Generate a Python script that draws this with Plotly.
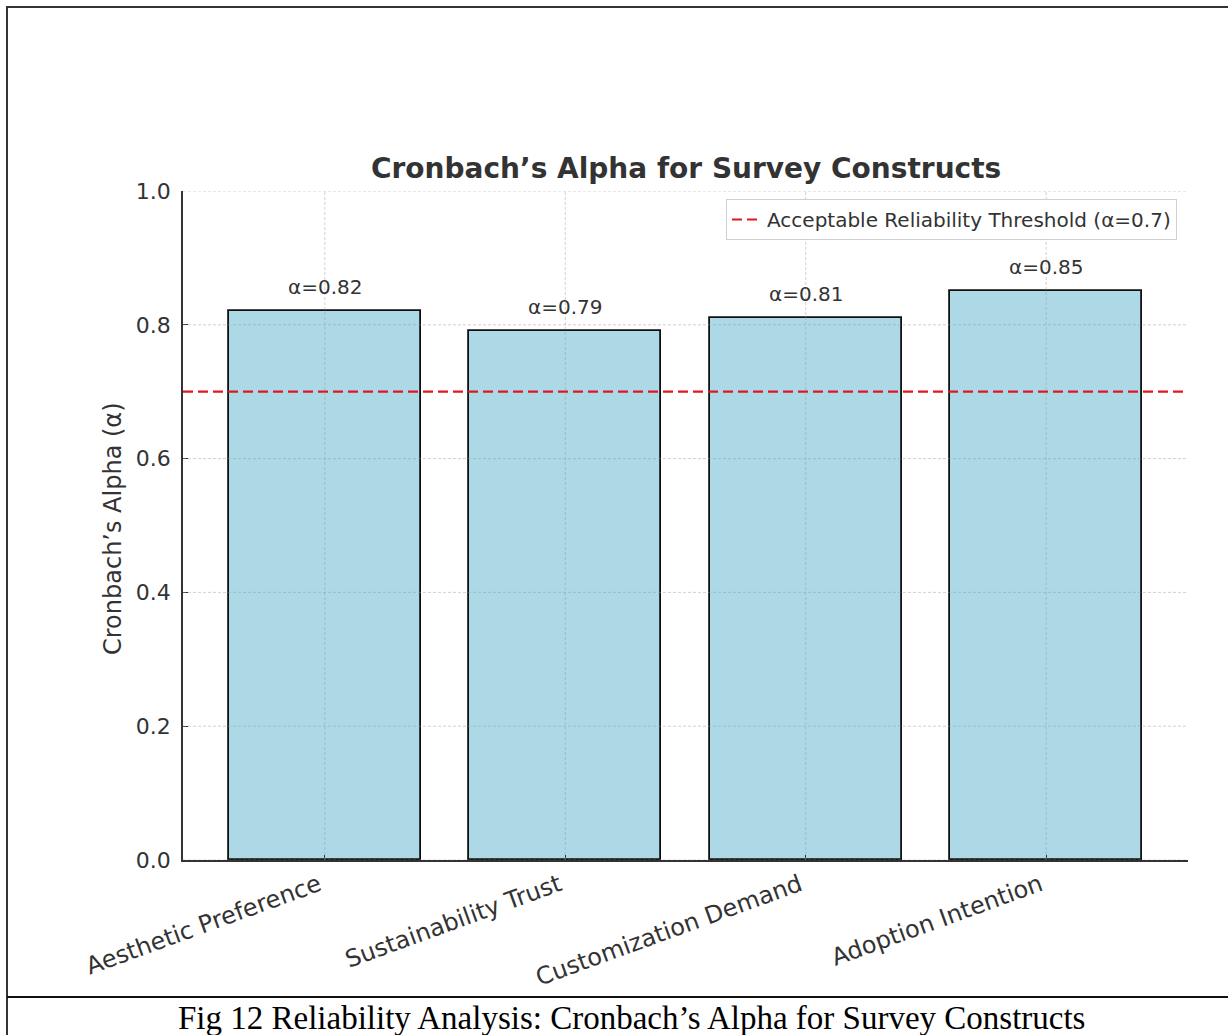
import numpy as np
import plotly.graph_objects as go

# Reliability scores per survey construct
constructs = ["Aesthetic Preference", "Sustainability Trust", "Customization Demand", "Adoption Intention"]
alpha_values = [0.82, 0.79, 0.81, 0.85]
threshold = 0.7
threshold_label = "Acceptable Reliability Threshold (α=0.7)"
y_ticks = [0.0, 0.2, 0.4, 0.6, 0.8, 1.0]

W, H = 1228, 1035
FONT = "DejaVu Sans"
TXT = "#333333"

pos = np.arange(len(constructs))
bar_width = 0.8
pad = 0.05 * (len(constructs) - 1 + bar_width)
x_range = [pos[0] - bar_width / 2 - pad, pos[-1] + bar_width / 2 + pad]

fig = go.Figure()

fig.add_trace(go.Bar(
    x=pos, y=alpha_values, width=bar_width,
    marker=dict(color="#ADD8E6", line=dict(color="#111111", width=1.8)),
    showlegend=False, hoverinfo="skip",
))

fig.add_trace(go.Scatter(
    x=x_range, y=[threshold, threshold], mode="lines",
    line=dict(color="#E0191F", width=2.2, dash="10px,5px"),
    name=threshold_label,
))

shapes = []
# dashed grid drawn over the bars
for yv in y_ticks:
    shapes.append(dict(type="line", xref="x domain", yref="y", x0=0, x1=1, y0=yv, y1=yv,
                       line=dict(color="rgba(150,150,150,0.45)", width=1, dash="3px,2px"),
                       layer="above"))
for xv in pos:
    shapes.append(dict(type="line", xref="x", yref="y domain", x0=xv, x1=xv, y0=0, y1=1,
                       line=dict(color="rgba(150,150,150,0.45)", width=1, dash="3px,2px"),
                       layer="above"))

# frame around figure and caption separator
shapes.append(dict(type="rect", xref="paper", yref="paper",
                   x0=7 / W, x1=1.02, y0=-0.02, y1=1 - 7 / H,
                   line=dict(color="#333333", width=2), layer="above"))
shapes.append(dict(type="line", xref="paper", yref="paper",
                   x0=7 / W, x1=1.0, y0=1 - 997 / H, y1=1 - 997 / H,
                   line=dict(color="#111111", width=2), layer="above"))

annotations = []
for xv, v in zip(pos, alpha_values):
    annotations.append(dict(x=xv, y=v + 0.02, xref="x", yref="y", text=f"α={v:.2f}",
                            showarrow=False, yanchor="bottom", yshift=-3,
                            font=dict(family=FONT, size=20, color=TXT)))

annotations.append(dict(x=(183 + 1188) / 2 / W, y=1 - 168 / H, xref="paper", yref="paper",
                        text="<b>Cronbach’s Alpha for Survey Constructs</b>", showarrow=False,
                        xanchor="center", yanchor="middle",
                        font=dict(family=FONT, size=28, color=TXT)))
annotations.append(dict(x=113 / W, y=1 - 529 / H, xref="paper", yref="paper",
                        text="Cronbach’s Alpha (α)", showarrow=False, textangle=-90,
                        xanchor="center", yanchor="middle",
                        font=dict(family=FONT, size=24, color=TXT)))
annotations.append(dict(x=631 / W, y=1 - 1018 / H, xref="paper", yref="paper",
                        text="Fig 12 Reliability Analysis: Cronbach’s Alpha for Survey Constructs",
                        showarrow=False, xanchor="center", yanchor="middle",
                        font=dict(family="Liberation Serif", size=33, color="#000000")))

fig.update_layout(
    width=W, height=H,
    margin=dict(l=0, r=0, t=0, b=0, autoexpand=False),
    paper_bgcolor="white", plot_bgcolor="white",
    shapes=shapes, annotations=annotations,
    xaxis=dict(
        domain=[183 / W, 1188 / W], range=x_range, automargin=False,
        tickmode="array", tickvals=pos, ticktext=constructs, tickangle=-20,
        showgrid=False, zeroline=False,
        showline=True, linecolor="#333333", linewidth=1.5,
        ticks="inside", ticklen=5, tickcolor="#333333",
        tickfont=dict(family=FONT, size=24, color=TXT),
        ticklabelshift=-6,
    ),
    yaxis=dict(
        domain=[1 - 860 / H, 1 - 191 / H], range=[0, 1], automargin=False,
        tickmode="array", tickvals=y_ticks, tickformat=".1f",
        showgrid=False, zeroline=False,
        showline=True, linecolor="#333333", linewidth=1.5,
        ticks="inside", ticklen=5, tickcolor="#333333",
        tickfont=dict(family=FONT, size=22, color=TXT),
        ticklabelstandoff=6,
    ),
    legend=dict(
        x=1177 / W, y=1 - 199 / H, xanchor="right", yanchor="top",
        bgcolor="rgba(255,255,255,0.9)", bordercolor="#d0d0d0", borderwidth=1,
        font=dict(family=FONT, size=20, color=TXT),
        tracegroupgap=0, itemwidth=30,
    ),
    bargap=0,
)

fig.write_html("out.html")
